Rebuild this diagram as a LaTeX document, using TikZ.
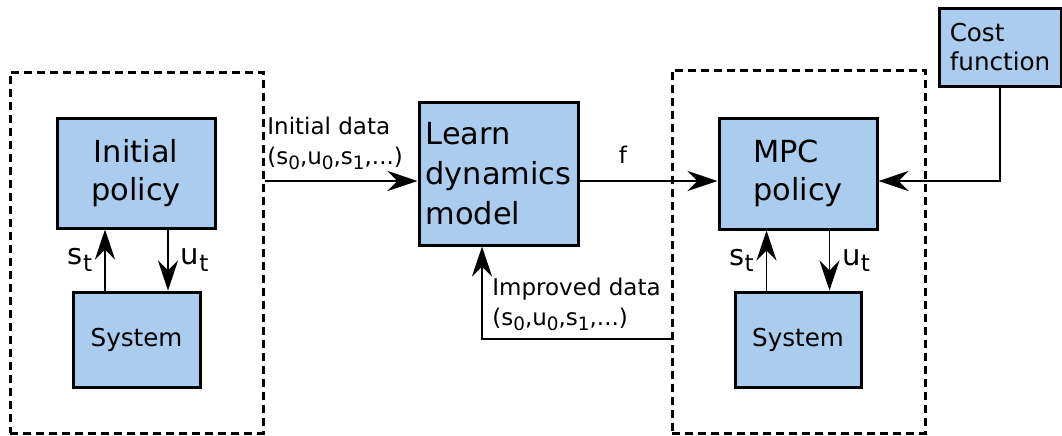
\documentclass[tikz,border=0pt]{standalone}
\usepackage{fontspec}
\setmainfont{DejaVu Sans}
\usetikzlibrary{arrows.meta}
\definecolor{boxblue}{HTML}{AACCEE}
\newcommand{\idx}[1]{\raisebox{-0.4ex}{\scalebox{0.8}{#1}}}
\newcommand{\sdata}{(s\idx{0},u\idx{0},s\idx{1},...)}

\begin{document}
\begin{tikzpicture}[x=0.5pt,y=-0.5pt,
  blk/.style={draw,line width=1.5pt,fill=boxblue,inner sep=0pt},
  grp/.style={draw,line width=1.5pt,dash pattern=on 4pt off 2.5pt,inner sep=0pt},
  arr/.style={line width=0.9pt,-{Stealth[length=15pt,width=10pt,inset=5pt]}},
  big/.style={font=\fontsize{15.2}{19}\selectfont},
  mid/.style={font=\fontsize{12.3}{14.5}\selectfont},
  lbl/.style={font=\fontsize{11.5}{15}\selectfont,inner sep=0pt},
  sig/.style={font=\fontsize{14.5}{17}\selectfont,inner sep=6pt}]
\useasboundingbox (0,0) rectangle (1062,435);
% dashed groups
\node[grp,minimum width=126.5pt,minimum height=180.5pt](dashL) at (136.5,252.5){};
\node[grp,minimum width=126.5pt,minimum height=181.5pt](dashR) at (798.5,251.5){};
% blocks
\node[blk,big,align=center,minimum width=79pt,minimum height=55pt](initpol) at (136,173){Initial\\policy};
\node[blk,mid,minimum width=63.5pt,minimum height=47.5pt](sysL) at (136.5,339.5){System};
\node[blk,font=\fontsize{15.2}{20}\selectfont,align=left,minimum width=79.5pt,minimum height=71.5pt](learn) at (498.5,173.5){Learn\\dynamics\\model};
\node[blk,big,align=left,minimum width=79pt,minimum height=55.5pt](mpc) at (798,173.5){MPC\\policy};
\node[blk,mid,minimum width=63pt,minimum height=47.5pt](sysR) at (798,339.5){System};
\node[blk,mid,align=left,minimum width=61pt,minimum height=39pt](cost) at (1000,47){Cost\\function};
\coordinate (flow) at (0,181);
\coordinate (back) at (482,339);
% feedback loops inside the groups
\foreach\p/\s in{initpol/sysL,mpc/sysR}{
  \draw[arr]([xshift=-15.75pt]\s.north)--([xshift=-15.75pt]\s.north |- \p.south) node[sig,left,midway]{s\idx{t}};
  \draw[arr]([xshift=15.75pt]\s.north |- \p.south)--([xshift=15.75pt]\s.north) node[sig,right,midway]{u\idx{t}};
}
% data flow
\draw[arr](dashL.east |- flow)--(learn.west |- flow);
\draw[arr](learn.east |- flow)--(mpc.west |- flow);
\draw[arr](cost.south)|-(mpc.east |- flow);
\draw[arr](dashR.west |- back)-|(back |- learn.south);
\node[lbl,anchor=west,align=left](initlbl) at (267,143){Initial data\\\sdata};
\node[lbl](flbl) at (623,155){f};
\node[lbl,anchor=west,align=left](implbl) at (492,304.5){Improved data\\\sdata};
\end{tikzpicture}
\end{document}
